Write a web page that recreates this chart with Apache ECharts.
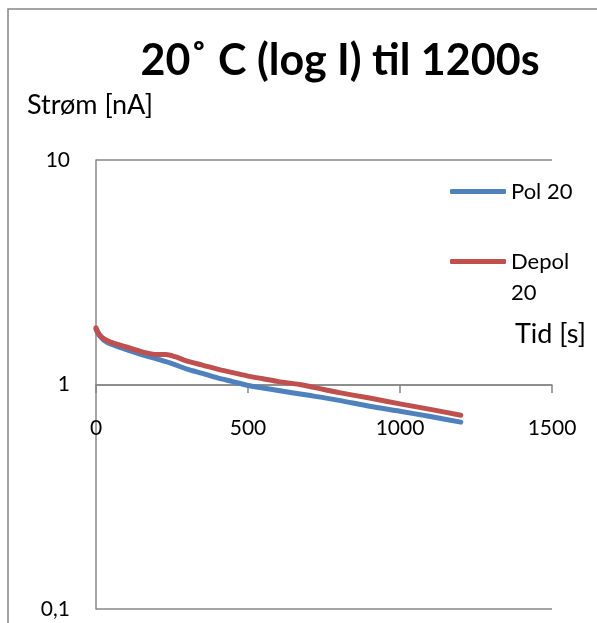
<!DOCTYPE html>
<html>
<head>
<meta charset="utf-8">
<script src="https://cdn.jsdelivr.net/npm/echarts@6/dist/echarts.min.js"></script>
<style>
  html, body { margin: 0; padding: 0; background: #fff; }
  #chart { width: 597px; height: 623px; }
</style>
</head>
<body>
<div id="chart"></div>
<script>
// Time in seconds and measured current in nA
const timePol = [0, 10, 25, 50, 100, 150, 200, 250, 300, 350, 400, 450, 500, 550, 600, 700, 800, 900, 1000, 1100, 1200];
const pol20 = [1.76, 1.66, 1.58, 1.51, 1.43, 1.36, 1.30, 1.24, 1.17, 1.12, 1.07, 1.03, 0.99, 0.965, 0.94, 0.895, 0.85, 0.80, 0.76, 0.72, 0.68];

const timeDepol = [0, 10, 25, 50, 100, 150, 200, 230, 260, 300, 350, 400, 450, 500, 550, 600, 670, 750, 800, 900, 1000, 1100, 1200];
const depol20 = [1.79, 1.68, 1.60, 1.54, 1.47, 1.40, 1.36, 1.36, 1.33, 1.27, 1.22, 1.17, 1.13, 1.09, 1.06, 1.03, 1.00, 0.95, 0.92, 0.87, 0.82, 0.775, 0.73];

const seriesNames = ['Pol 20', 'Depol 20'];
const xTicks = [0, 500, 1000, 1500];
const yTicks = [0.1, 1, 10];

const titleText = '20\u02DA C (log I) til 1200s';
const yAxisTitle = 'Strøm [nA]';
const xAxisTitle = 'Tid [s]';

const pairs = (xs, ys) => xs.map((x, i) => [x, ys[i]]);

const FONT = 'Lato';
const GRAY = '#878787';

const chart = echarts.init(document.getElementById('chart'), null, { renderer: 'canvas' });

chart.setOption({
  animation: false,
  backgroundColor: '#fff',
  textStyle: { fontFamily: FONT, color: '#000' },
  title: [
    {
      text: titleText,
      left: 340, top: 40, textAlign: 'center', padding: 0,
      textStyle: { fontFamily: FONT, fontWeight: 'bold', fontSize: 43, color: '#000' }
    },
    {
      text: yAxisTitle,
      left: 27, top: 92, padding: 0,
      textStyle: { fontFamily: FONT, fontWeight: 'normal', fontSize: 27, color: '#000' }
    },
    {
      text: xAxisTitle,
      left: 515, top: 321, padding: 0,
      textStyle: { fontFamily: FONT, fontWeight: 'normal', fontSize: 27, color: '#000' }
    }
  ],
  graphic: [
    {
      type: 'rect', silent: true, z: -1,
      shape: { x: 8, y: 9, width: 800, height: 800 },
      style: { fill: 'none', stroke: GRAY, lineWidth: 1.5 }
    }
  ],
  legend: {
    orient: 'vertical',
    left: 450, top: 176,
    padding: 0,
    itemWidth: 56, itemHeight: 5,
    itemGap: 8,
    icon: 'roundRect',
    // the blank first line keeps the swatch level with "Depol"
    formatter: name => name === seriesNames[1] ? '\nDepol\n20' : name,
    textStyle: { fontFamily: FONT, fontSize: 22, lineHeight: 31, color: '#000' },
    data: seriesNames
  },
  grid: { left: 96, top: 160, right: 45, bottom: 14, containLabel: false },
  xAxis: {
    type: 'value',
    min: xTicks[0], max: xTicks[xTicks.length - 1], interval: 500,
    position: 'bottom',
    offset: -224,
    axisLine: { show: true, lineStyle: { color: GRAY, width: 1.5 } },
    axisTick: { show: true, length: 8, inside: false, lineStyle: { color: GRAY, width: 1.5 } },
    axisLabel: {
      margin: 33, fontFamily: FONT, fontSize: 21, color: '#000',
      formatter: v => String(v)
    },
    splitLine: { show: false }
  },
  yAxis: {
    type: 'log', logBase: 10,
    min: yTicks[0], max: yTicks[yTicks.length - 1],
    axisLine: { show: true, lineStyle: { color: GRAY, width: 1.5 } },
    axisTick: { show: false },
    minorTick: { show: false },
    axisLabel: {
      margin: 26, fontFamily: FONT, fontSize: 21, color: '#000',
      formatter: v => String(+v.toPrecision(6)).replace('.', ',')
    },
    splitLine: { show: true, lineStyle: { color: GRAY, width: 1.5 } }
  },
  series: [
    {
      name: seriesNames[0], type: 'line', data: pairs(timePol, pol20),
      showSymbol: false, symbol: 'none', smooth: 0.3,
      color: '#4F81BD',
      lineStyle: { width: 5, color: '#4F81BD', cap: 'round', join: 'round' },
      z: 2
    },
    {
      name: seriesNames[1], type: 'line', data: pairs(timeDepol, depol20),
      showSymbol: false, symbol: 'none', smooth: 0.3,
      color: '#C0504D',
      lineStyle: { width: 5, color: '#C0504D', cap: 'round', join: 'round' },
      z: 3
    }
  ]
});
</script>
</body>
</html>
